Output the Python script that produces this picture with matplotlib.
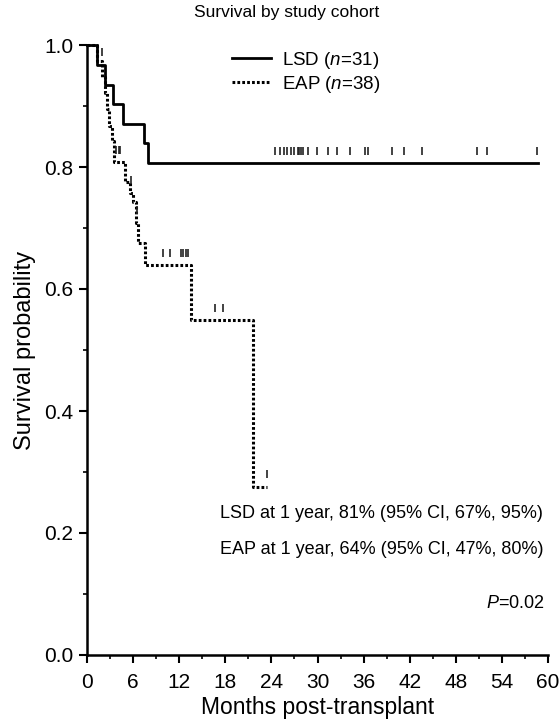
import matplotlib
matplotlib.use('Agg')
import matplotlib.pyplot as plt
from matplotlib.lines import Line2D
import numpy as np

plt.rcParams['font.family'] = ['Liberation Sans', 'DejaVu Sans']
plt.rcParams['mathtext.fontset'] = 'custom'
plt.rcParams['mathtext.rm'] = 'Liberation Sans'
plt.rcParams['mathtext.it'] = 'Liberation Sans:italic'

# LSD cohort: step times (months) and survival after each step
lsd_t = [0, 1.3, 2.3, 3.4, 4.7, 7.4, 7.9, 58.7]
lsd_s = [1.0, 0.968, 0.935, 0.903, 0.871, 0.839, 0.806, 0.806]
lsd_cens = [2.0, 24.5, 25.1, 25.6, 26.0, 26.5, 27.0, 27.4, 27.6, 27.8, 28.1, 28.7,
            29.9, 31.4, 32.5, 34.2, 36.2, 36.6, 39.7, 41.2, 43.6, 50.7, 52.0, 58.6]

# EAP cohort
eap_t = [0, 1.3, 1.9, 2.3, 2.6, 2.9, 3.2, 3.5, 4.9, 5.6, 6.0, 6.4, 6.6, 7.6, 13.6, 21.6, 23.4]
eap_s = [1.0, 0.974, 0.947, 0.921, 0.895, 0.868, 0.842, 0.808, 0.775, 0.758, 0.742,
         0.709, 0.676, 0.639, 0.549, 0.276, 0.276]
eap_cens = [3.8, 4.1, 4.3, 5.7, 6.5, 9.9, 10.8, 12.2, 12.5, 12.9, 13.2, 16.7, 17.7, 23.4]

xticks = np.arange(0, 61, 6)
yticks = np.arange(0, 1.01, 0.2)


def surv_at(t, times, surv):
    idx = np.searchsorted(times, t, side='right') - 1
    return np.array(surv)[idx]


fig = plt.figure(figsize=(5.6, 7.21), dpi=100)
ax = fig.add_axes([87/560, 1-655/721, 461/560, 610/721])

ax.step(lsd_t, lsd_s, where='post', color='black', lw=2.0, clip_on=False)
ax.step(eap_t, eap_s, where='post', color='black', lw=2.2,
        linestyle=(0, (0.9, 0.7)), clip_on=False)

off = 0.02
ax.plot(lsd_cens, surv_at(lsd_cens, lsd_t, lsd_s) + off, ls='none', marker='|',
        color='#222222', ms=6, mew=1.2, clip_on=False)
ax.plot(eap_cens, surv_at(eap_cens, eap_t, eap_s) + off, ls='none', marker='|',
        color='#222222', ms=6, mew=1.2, clip_on=False)

ax.set_xlim(0, 60)
ax.set_ylim(0, 1.0)
ax.set_xticks(xticks)
ax.set_yticks(yticks)
ax.set_yticklabels(['%.1f' % v for v in yticks])
ax.set_xticks(np.arange(3, 60, 6), minor=True)
ax.set_yticks(np.arange(0.1, 1.0, 0.2), minor=True)
ax.tick_params(which='major', direction='out', length=6, width=1.5, labelsize=15, pad=4)
ax.tick_params(axis='x', which='major', pad=7)
ax.tick_params(which='minor', direction='out', length=3, width=1.2)
for s in ['top', 'right']:
    ax.spines[s].set_visible(False)
for s in ['left', 'bottom']:
    ax.spines[s].set_linewidth(1.8)

ax.set_xlabel('Months post-transplant', fontsize=16.5, labelpad=3)
ax.set_ylabel('Survival probability', fontsize=17, labelpad=6)

fig.text(287/560, 1-12/721, 'Survival by study cohort', ha='center', va='center', fontsize=12.5)

handles = [Line2D([], [], color='black', lw=2.0),
           Line2D([], [], color='black', lw=2.2, linestyle=(0, (0.9, 0.7)))]
fig.legend(handles, ['LSD ($n$=31)', 'EAP ($n$=38)'], loc='upper left',
           bbox_to_anchor=(232/560, 1-50/721), borderpad=0, borderaxespad=0,
           frameon=False, fontsize=13.5, handlelength=2.1, handletextpad=0.55,
           labelspacing=0.15)

ax.text(220/560, 1-513/721, 'LSD at 1 year, 81% (95% CI, 67%, 95%)',
        transform=fig.transFigure, fontsize=13, va='center', ha='left')
ax.text(220/560, 1-550/721, 'EAP at 1 year, 64% (95% CI, 47%, 80%)',
        transform=fig.transFigure, fontsize=13, va='center', ha='left')
ax.text(545/560, 1-603/721, '$P$=0.02', transform=fig.transFigure,
        fontsize=13, va='center', ha='right')

fig.savefig('out.png', dpi=100)
